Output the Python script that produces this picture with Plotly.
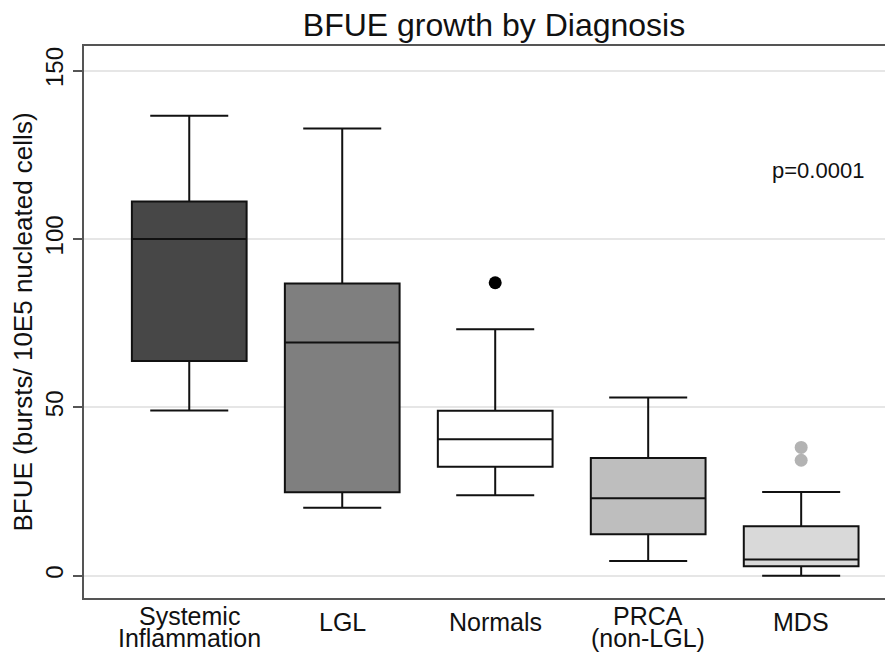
import plotly.graph_objects as go

categories = ["Systemic Inflammation", "LGL", "Normals", "PRCA (non-LGL)", "MDS"]
label_lines = [["Systemic", "Inflammation"], ["LGL"], ["Normals"], ["PRCA", "(non-LGL)"], ["MDS"]]
q1 = [63.8, 24.8, 32.4, 12.3, 2.85]
median = [100.0, 69.3, 40.5, 23.0, 4.8]
q3 = [111.1, 86.8, 49.0, 35.0, 14.7]
lower_whisker = [49.1, 20.2, 23.9, 4.4, 0.0]
upper_whisker = [136.6, 132.8, 73.2, 52.9, 24.9]
fill_colors = ["#474747", "#7f7f7f", "#ffffff", "#bebebe", "#d9d9d9"]

outlier_cats = ["Normals", "MDS", "MDS"]
outlier_vals = [87.0, 38.1, 34.3]
outlier_colors = ["#000000", "#b3b3b3", "#b3b3b3"]

y_ticks = [0, 50, 100, 150]

# the page places the figure 8px from the window's top-left corner
OFF = 8
W, H = 893 - 2 * OFF, 656 - OFF
L, R, T = 84 - OFF, 0, 46 - OFF
B = H - (598 - OFF)
plot_h = H - T - B
plot_w = W - L - R


def py(px):
    """window pixel row -> paper y"""
    return (H - B - (px - OFF)) / plot_h


fig = go.Figure()
for i, cat in enumerate(categories):
    fig.add_trace(go.Box(
        x=[cat], q1=[q1[i]], median=[median[i]], q3=[q3[i]],
        lowerfence=[lower_whisker[i]], upperfence=[upper_whisker[i]],
        fillcolor=fill_colors[i],
        line=dict(color="#111111", width=2),
        whiskerwidth=0.68, width=0.75,
        boxpoints=False, showlegend=False, hoverinfo="skip",
    ))

fig.add_trace(go.Scatter(
    x=outlier_cats, y=outlier_vals, mode="markers",
    marker=dict(color=outlier_colors, size=13, line=dict(width=0)),
    showlegend=False, hoverinfo="skip",
))

# category labels, one annotation per text line (tight line spacing as in the reference)
for cat, lines in zip(categories, label_lines):
    for k, line in enumerate(lines):
        center_px = (616 if len(lines) > 1 else 622) + 22 * k
        fig.add_annotation(
            x=cat, xref="x", y=py(center_px), yref="paper",
            text=line, showarrow=False, xanchor="center", yanchor="middle",
            font=dict(size=25, color="#111111"), borderpad=0,
        )

fig.add_annotation(
    x=(866 - OFF - L) / plot_w, y=py(170), xref="paper", yref="paper",
    text="p=0.0001", showarrow=False, font=dict(size=22, color="#111111"),
    xanchor="right", yanchor="middle",
)

fig.update_layout(
    width=W, height=H,
    margin=dict(l=L, r=R, t=T, b=B, autoexpand=False),
    paper_bgcolor="white", plot_bgcolor="white",
    font=dict(family="Liberation Sans, Arial, sans-serif", color="#111111"),
    title=dict(text="BFUE growth by Diagnosis", x=(494 - OFF) / W, xanchor="center",
               y=1 - (25 - OFF) / H, yanchor="middle", xref="container", yref="container",
               font=dict(size=32, color="#111111")),
    xaxis=dict(
        type="category", categoryorder="array", categoryarray=categories,
        range=[-0.688, 4.548], showgrid=False, zeroline=False,
        showline=True, linecolor="#555555", linewidth=2, mirror=True,
        ticks="", showticklabels=False, automargin=False,
    ),
    yaxis=dict(
        tickmode="array", tickvals=y_ticks, ticktext=[str(v) for v in y_ticks],
        range=[-6.6, 157.3], showgrid=True, gridcolor="#e6e6e6", gridwidth=2,
        zeroline=False, showline=True, linecolor="#555555", linewidth=2,
        ticks="outside", ticklen=9, tickcolor="#555555", tickwidth=1.5,
        tickangle=-90, tickfont=dict(size=24, color="#111111"), automargin=False,
        title=dict(text="BFUE (bursts/ 10E5 nucleated cells)",
                   font=dict(size=26, color="#111111"), standoff=4),
    ),
)

fig.write_html("out.html")
